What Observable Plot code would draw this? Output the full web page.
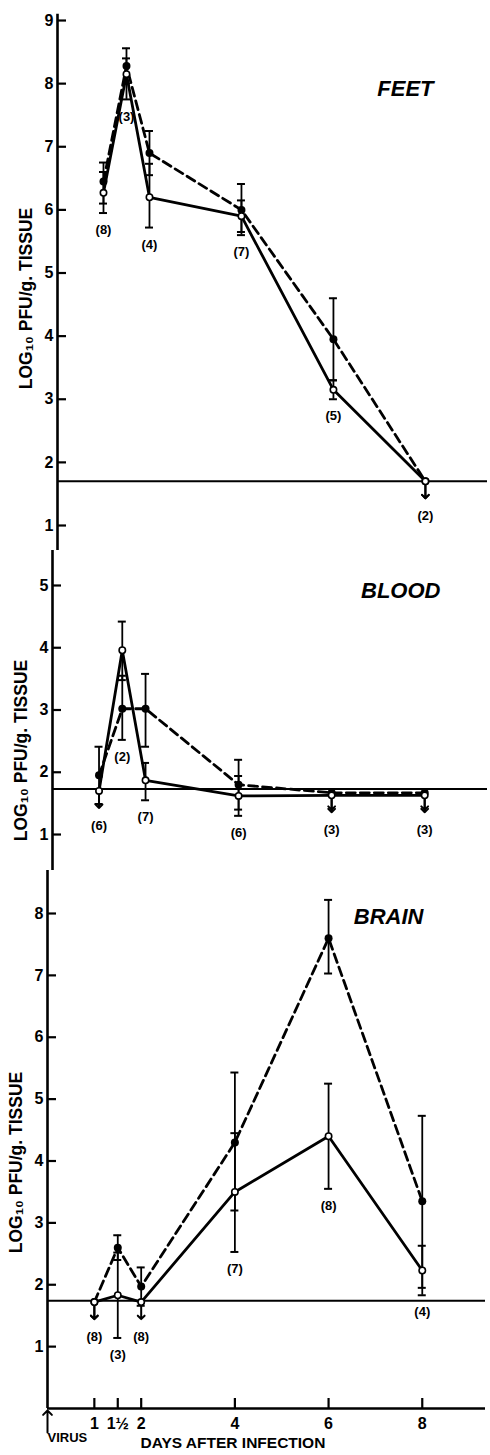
<!DOCTYPE html>
<html><head><meta charset="utf-8">
<script src="https://cdn.jsdelivr.net/npm/d3@7"></script>
<script src="https://cdn.jsdelivr.net/npm/@observablehq/plot@0.6"></script>
<style>html,body{margin:0;padding:0;background:#fff;overflow:hidden}#chart svg{display:block}</style>
</head><body><div id="chart"></div>
<script>
// ---- shared ----
const days = [1, 1.5, 2, 4, 6, 8];
const dayTickLabels = ["1", "1½", "2", "4", "6", "8"];
const yTitle = "LOG₁₀ PFU/g. TISSUE";
const xTitle = "DAYS AFTER INFECTION";
const virusLabel = "VIRUS";

// ---- FEET ----
const feetTitle = "FEET";
const feetTicks = [1, 2, 3, 4, 5, 6, 7, 8, 9];
const feetLimit = 1.70;
const feetN = [8, 3, 4, 7, 5, 2];
const feetSolid      = [6.27, 8.15, 6.20, 5.90, 3.15, 1.70];
const feetSolidLo    = [5.95, 7.75, 5.72, 5.65, 3.00, null];
const feetSolidHi    = [6.60, 8.40, 6.73, 6.15, 3.30, null];
const feetSolidBelow = [0, 0, 0, 0, 0, 1];
const feetDashed      = [6.45, 8.28, 6.90, 6.00, 3.95, 1.70];
const feetDashedLo    = [6.10, 8.00, 6.55, 5.60, 3.30, null];
const feetDashedHi    = [6.75, 8.56, 7.25, 6.41, 4.60, null];
const feetDashedBelow = [0, 0, 0, 0, 0, 1];

// ---- BLOOD ----
const bloodTitle = "BLOOD";
const bloodTicks = [1, 2, 3, 4, 5];
const bloodLimit = 1.73;
const bloodN = [6, 2, 7, 6, 3, 3];
const bloodSolid      = [1.70, 3.96, 1.87, 1.62, 1.63, 1.63];
const bloodSolidLo    = [null, 3.48, 1.55, 1.30, null, null];
const bloodSolidHi    = [null, 4.42, 2.15, 1.94, null, null];
const bloodSolidBelow = [1, 0, 0, 0, 1, 1];
const bloodDashed      = [1.95, 3.02, 3.02, 1.80, 1.67, 1.67];
const bloodDashedLo    = [1.49, 2.52, 2.41, 1.40, null, null];
const bloodDashedHi    = [2.41, 3.55, 3.58, 2.20, null, null];
const bloodDashedBelow = [0, 0, 0, 0, 1, 1];

// ---- BRAIN ----
const brainTitle = "BRAIN";
const brainTicks = [1, 2, 3, 4, 5, 6, 7, 8];
const brainLimit = 1.74;
const brainN = [8, 3, 8, 7, 8, 4];
const brainSolid      = [1.72, 1.83, 1.72, 3.50, 4.40, 2.23];
const brainSolidLo    = [null, 1.14, null, 2.53, 3.55, 1.83];
const brainSolidHi    = [null, 2.52, null, 4.45, 5.25, 2.63];
const brainSolidBelow = [1, 0, 1, 0, 0, 0];
const brainDashed      = [1.72, 2.60, 1.97, 4.30, 7.60, 3.35];
const brainDashedLo    = [null, 2.40, 1.66, 3.20, 7.03, 1.95];
const brainDashedHi    = [null, 2.80, 2.28, 5.43, 8.22, 4.73];
const brainDashedBelow = [1, 0, 0, 0, 0, 0];

const FONT = "'Liberation Sans', Arial, Helvetica, sans-serif";

function rows(vals, lo, hi, below) {
  return days.map((d, i) => ({day: d, v: vals[i], lo: lo[i], hi: hi[i], below: !!below[i]}));
}

function panel(cfg) {
  const W = 490;
  const solid = rows(cfg.solid, cfg.solidLo, cfg.solidHi, cfg.solidBelow);
  const dashed = rows(cfg.dashed, cfg.dashedLo, cfg.dashedHi, cfg.dashedBelow);
  const all = solid.concat(dashed);
  const bars = all.filter(d => d.lo != null);
  const caps = bars.flatMap(d => [{day: d.day, y: d.lo}, {day: d.day, y: d.hi}]);
  const belowPts = all.filter(d => d.below);
  const labels = days.map((d, i) => {
    const s = solid[i], t = dashed[i];
    const anyBelow = s.below || t.below;
    const y = anyBelow ? Math.min(s.v, t.v)
      : Math.min(s.lo ?? s.v, t.lo ?? t.v, s.v, t.v);
    return {day: d, y, anyBelow, text: `(${cfg.n[i]})`};
  });
  const innerW = W - cfg.marginLeft - cfg.marginRight;
  const innerH = cfg.height - cfg.marginTop - cfg.marginBottom;

  const marks = [
    Plot.ruleY([cfg.limit], {strokeWidth: 2}),
    cfg.axisTop != null
      ? Plot.ruleX([0], {x: d => d, y1: cfg.yDomain[0], y2: cfg.axisTop, strokeWidth: 2.6})
      : Plot.ruleX([0], {strokeWidth: 2.6}),
    Plot.tickY(cfg.ticks, {y: d => d, insetRight: innerW - 9, strokeWidth: 2.2}),
    Plot.axisY(cfg.ticks, {tickSize: 0, tickPadding: 4, fontSize: 16, fontWeight: "bold", label: null,
      tickFormat: d => String(d)}),
    Plot.text([yTitle], {frameAnchor: "left", textAnchor: "middle", dx: -31, dy: cfg.yTitleDy, rotate: -90,
      fontSize: 17.5, fontWeight: "bold"}),
    Plot.text([cfg.title], {frameAnchor: "top-right", textAnchor: "end", dx: cfg.titleDx, dy: cfg.titleDy,
      fontSize: 22, fontStyle: "italic", fontWeight: "bold"}),
    Plot.line(solid, {x: "day", y: "v", strokeWidth: 2.8, strokeLinejoin: "round"}),
    Plot.line(dashed, {x: "day", y: "v", strokeWidth: 2.8, strokeDasharray: "9,5"}),
    Plot.ruleX(bars, {x: "day", y1: "lo", y2: "hi", strokeWidth: 1.8}),
    Plot.ruleY(caps, {y: "y", x1: "day", x2: "day", insetLeft: -4, insetRight: -4, strokeWidth: 2}),
    Plot.vector(belowPts, {x: "day", y: "v", length: 17, rotate: 180, anchor: "start", strokeWidth: 2}),
    Plot.dot(dashed, {x: "day", y: "v", r: 4, fill: "black"}),
    Plot.dot(solid, {x: "day", y: "v", r: 3.2, fill: "white", stroke: "black", strokeWidth: 1.6}),
    Plot.text(labels.filter(d => !d.anyBelow), {x: "day", y: "y", text: "text", dy: 17, fontSize: 13, fontWeight: "bold"}),
    Plot.text(labels.filter(d => d.anyBelow), {x: "day", y: "y", text: "text", dy: 35, fontSize: 13, fontWeight: "bold"})
  ];

  if (cfg.xAxis) {
    marks.push(
      Plot.ruleY([0], {strokeWidth: 2.6}),
      Plot.tickX(days, {x: d => d, insetTop: innerH - 10, strokeWidth: 2.2}),
      Plot.axisX(days, {tickSize: 0, tickPadding: 9, fontSize: 16, fontWeight: "bold", label: null,
        tickFormat: d => dayTickLabels[days.indexOf(d)]}),
      Plot.vector([0], {frameAnchor: "bottom-left", dy: 2, length: 22, anchor: "end", rotate: 0, strokeWidth: 2}),
      Plot.text([virusLabel], {frameAnchor: "bottom-left", dy: 33, fontSize: 13, fontWeight: "bold"}),
      Plot.text([xTitle], {frameAnchor: "bottom-left", textAnchor: "start", dx: 93, dy: 39, fontSize: 15.5, fontWeight: "bold"})
    );
  }

  return Plot.plot({
    width: W,
    height: cfg.height,
    marginTop: cfg.marginTop,
    marginBottom: cfg.marginBottom,
    marginLeft: cfg.marginLeft,
    marginRight: cfg.marginRight,
    x: {domain: [0, 9.35], axis: null},
    y: {domain: cfg.yDomain, axis: null},
    style: {fontFamily: FONT, fontWeight: "bold", color: "black", background: "white", overflow: "visible"},
    marks
  });
}

const chart = document.getElementById("chart");
chart.append(panel({
  title: feetTitle, ticks: feetTicks, limit: feetLimit, n: feetN,
  solid: feetSolid, solidLo: feetSolidLo, solidHi: feetSolidHi, solidBelow: feetSolidBelow,
  dashed: feetDashed, dashedLo: feetDashedLo, dashedHi: feetDashedHi, dashedBelow: feetDashedBelow,
  height: 550, marginTop: 0, marginBottom: 0, marginLeft: 57, marginRight: 3,
  yDomain: [0.604, 9.317], axisTop: 9.1, yTitleDy: 23, titleDx: -54, titleDy: 80
}));
chart.append(panel({
  title: bloodTitle, ticks: bloodTicks, limit: bloodLimit, n: bloodN,
  solid: bloodSolid, solidLo: bloodSolidLo, solidHi: bloodSolidHi, solidBelow: bloodSolidBelow,
  dashed: bloodDashed, dashedLo: bloodDashedLo, dashedHi: bloodDashedHi, dashedBelow: bloodDashedBelow,
  height: 320, marginTop: 0, marginBottom: 0, marginLeft: 52, marginRight: 3,
  yDomain: [0.422, 5.562], yTitleDy: 40, titleDx: -47, titleDy: 32
}));
chart.append(panel({
  title: brainTitle, ticks: brainTicks, limit: brainLimit, n: brainN,
  solid: brainSolid, solidLo: brainSolidLo, solidHi: brainSolidHi, solidBelow: brainSolidBelow,
  dashed: brainDashed, dashedLo: brainDashedLo, dashedHi: brainDashedHi, dashedBelow: brainDashedBelow,
  height: 585, marginTop: 0, marginBottom: 47, marginLeft: 47, marginRight: 5,
  yDomain: [0, 8.695], yTitleDy: 23, titleDx: -62, titleDy: 38, xAxis: true
}));
</script>
</body></html>
